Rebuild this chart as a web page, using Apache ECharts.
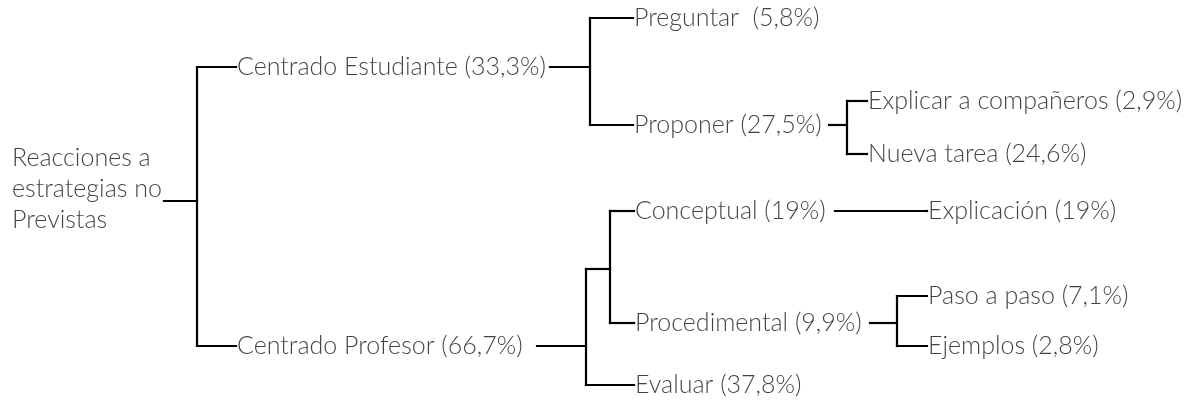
<!DOCTYPE html>
<html>
<head>
<meta charset="utf-8">
<script src="https://cdn.jsdelivr.net/npm/echarts@6/dist/echarts.min.js"></script>
<style>
html,body{margin:0;padding:0;background:#fff;}
#chart{width:1194px;height:406px;}
</style>
</head>
<body>
<div id="chart"></div>
<script>
// ---- data ----
var nodeNames = [
  'Reacciones a\nestrategias no\nPrevistas',
  'Centrado Estudiante',
  'Preguntar ',
  'Proponer',
  'Explicar a compañeros',
  'Nueva tarea',
  'Centrado Profesor',
  '',
  'Conceptual',
  'Explicación',
  'Procedimental',
  'Paso a paso',
  'Ejemplos',
  'Evaluar'
];
var nodeValues = [null, 33.3, 5.8, 27.5, 2.9, 24.6, 66.7, null, 19, 19, 9.9, 7.1, 2.8, 37.8];
var nodeParents = [-1, 0, 1, 1, 3, 3, 0, 6, 7, 8, 7, 10, 10, 6];

// ---- layout (axis units = pixels of the reference) ----
var layoutTextX   = [12, 237, 634, 634, 868, 868, 237, 586, 635, 928, 635, 928, 928, 635];
var layoutY       = [201, 67, 18, 125, 101, 154, 346, 269, 211, 211, 323, 296, 346, 385];
var layoutOutX    = [164, 550, null, 829, null, null, 537, 586, 835, null, 870, null, null, null];
var layoutBracket = [197, 590, null, 847, null, null, 586, 610, 926, null, 897, null, null, null];
var layoutLabelDy = [-12, 0, 0, 0, 0, 0, 0, 0, 0, 0, 0, 0, 0, 0];

var fmt = new Intl.NumberFormat('es-ES', {maximumFractionDigits: 1});
function labelOf(i) {
  if (nodeValues[i] == null) return nodeNames[i];
  return nodeNames[i] + ' (' + fmt.format(nodeValues[i]) + '%)';
}

// connector segments built from tree structure + layout
var segments = [];
for (var p = 0; p < nodeNames.length; p++) {
  var kids = [];
  for (var c = 0; c < nodeParents.length; c++) if (nodeParents[c] === p) kids.push(c);
  if (!kids.length) continue;
  var bx = layoutBracket[p], py = layoutY[p];
  if (layoutOutX[p] !== bx) segments.push([layoutOutX[p], py, bx, py]);
  var ys = kids.map(function (k) { return layoutY[k]; }).concat([py]);
  var y0 = Math.min.apply(null, ys), y1 = Math.max.apply(null, ys);
  if (y1 > y0) segments.push([bx, y0, bx, y1]);
  kids.forEach(function (k) {
    if (layoutTextX[k] > bx) segments.push([bx, layoutY[k], layoutTextX[k] - 1, layoutY[k]]);
  });
}

var labelData = [];
for (var i = 0; i < nodeNames.length; i++) {
  if (!labelOf(i)) continue;
  labelData.push({
    value: [layoutTextX[i], layoutY[i]],
    label: { formatter: labelOf(i), offset: [0, layoutLabelDy[i]] }
  });
}

var chart = echarts.init(document.getElementById('chart'), null, {renderer: 'canvas'});
chart.setOption({
  animation: false,
  backgroundColor: '#ffffff',
  grid: {left: 0, right: 0, top: 0, bottom: 0},
  xAxis: {type: 'value', min: 0, max: 1194, show: false},
  yAxis: {type: 'value', min: 0, max: 406, inverse: true, show: false},
  series: [
    {
      type: 'custom',
      data: segments,
      encode: {x: [0, 2], y: [1, 3]},
      renderItem: function (params, api) {
        var a = api.coord([api.value(0), api.value(1)]);
        var b = api.coord([api.value(2), api.value(3)]);
        return {
          type: 'line',
          shape: {x1: a[0], y1: a[1], x2: b[0], y2: b[1]},
          style: {stroke: '#000', lineWidth: 2.2, lineCap: 'square'}
        };
      }
    },
    {
      type: 'scatter',
      symbolSize: 0,
      data: labelData,
      label: {
        show: true,
        position: 'right',
        distance: 0,
        fontFamily: 'Lato',
        fontWeight: 300,
        fontSize: 25,
        lineHeight: 31,
        color: '#111111',
        align: 'left',
        verticalAlign: 'middle'
      }
    }
  ]
});
</script>
</body>
</html>
